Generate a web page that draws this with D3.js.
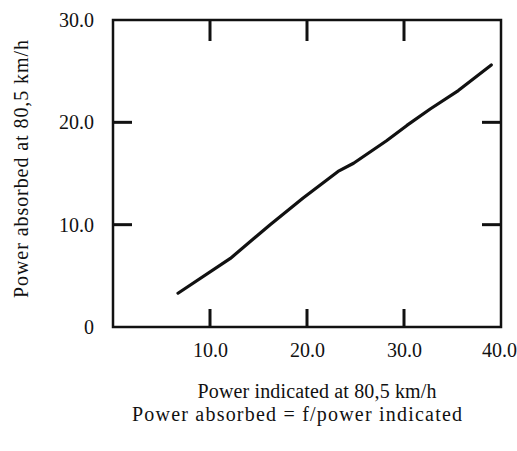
<!DOCTYPE html>
<html>
<head>
<style>
  body { margin: 0; background: #fff; }
  text { font-family: "Liberation Serif", "Times New Roman", serif; fill: #111; }
</style>
</head>
<body>
<script src="https://cdn.jsdelivr.net/npm/d3@7"></script>
<script type="text/javascript">
    // power indicated (x) vs power absorbed (y)
    var indicated = [6.7, 12.1, 16.2, 19.6, 23.2, 24.8, 28.2, 30.3, 32.7, 35.6, 39.0];
    var absorbed  = [3.3, 6.7, 10.0, 12.6, 15.2, 16.0, 18.2, 19.7, 21.3, 23.1, 25.6];
    var xTicks = [10, 20, 30, 40];
    var yTicks = [0, 10, 20, 30];
    var xTitle = "Power indicated at 80,5 km/h";
    var yTitle = "Power absorbed at 80,5 km/h";
    var subTitle = "Power absorbed = f/power indicated";

    var svgWidth = 517, svgHeight = 451;
    var mLeft = 113, mRight = 501, mTop = 20, mBottom = 327;

    var svg = d3.select("body").append("svg")
        .attr("width", svgWidth)
        .attr("height", svgHeight);

    var x = d3.scaleLinear().domain([0, 40]).range([mLeft, mRight]);
    var y = d3.scaleLinear().domain([0, 30]).range([mBottom, mTop]);

    function fmt(v) { return v === 0 ? "0" : v.toFixed(1); }

    // labels from axes, ticks drawn inward by hand
    var gLeft = svg.append("g").attr("transform", "translate(" + mLeft + ",0)")
        .call(d3.axisLeft(y).tickValues(yTicks).tickFormat(fmt).tickSize(0).tickPadding(19));
    var gBottom = svg.append("g").attr("transform", "translate(0," + mBottom + ")")
        .call(d3.axisBottom(x).tickValues(xTicks).tickFormat(fmt).tickSize(0).tickPadding(16));
    [gLeft, gBottom].forEach(function (g) {
        g.select(".domain").remove();
        g.selectAll("text").style("font-family", "Liberation Serif, serif").style("font-size", "20px").attr("fill", "#111");
    });
    // last label sits against the page edge
    gBottom.selectAll("text").filter(function (d) { return d === 40; }).attr("dx", -2);

    var inner = [10, 20];
    var innerX = [10, 20, 30];
    var tickLen = 19;
    var ticks = svg.append("g").attr("stroke", "#111").attr("stroke-width", 3);
    innerX.forEach(function (v) {
        ticks.append("line").attr("x1", x(v)).attr("x2", x(v)).attr("y1", mBottom).attr("y2", mBottom - 18);
        ticks.append("line").attr("x1", x(v)).attr("x2", x(v)).attr("y1", mTop).attr("y2", mTop + 21);
    });
    inner.forEach(function (v) {
        ticks.append("line").attr("x1", mLeft).attr("x2", mLeft + tickLen).attr("y1", y(v)).attr("y2", y(v));
        ticks.append("line").attr("x1", mRight).attr("x2", mRight - tickLen).attr("y1", y(v)).attr("y2", y(v));
    });

    svg.append("rect")
        .attr("x", mLeft).attr("y", mTop)
        .attr("width", mRight - mLeft).attr("height", mBottom - mTop)
        .attr("fill", "none").attr("stroke", "#111").attr("stroke-width", 2.5);

    var pts = indicated.map(function (v, i) { return [v, absorbed[i]]; });
    var line = d3.line().x(function (d) { return x(d[0]); }).y(function (d) { return y(d[1]); });
    svg.append("path")
        .datum(pts)
        .attr("d", line)
        .attr("fill", "none")
        .attr("stroke", "#111")
        .attr("stroke-width", 3.2)
        .attr("stroke-linejoin", "round")
        .attr("stroke-linecap", "round");

    svg.append("text").attr("x", 317).attr("y", 398).attr("text-anchor", "middle")
        .attr("textLength", 239).attr("lengthAdjust", "spacing")
        .style("font-size", "20px").text(xTitle);
    svg.append("text").attr("x", 297).attr("y", 421).attr("text-anchor", "middle")
        .attr("textLength", 330).attr("lengthAdjust", "spacing")
        .style("font-size", "20px").text(subTitle);
    svg.append("text")
        .attr("transform", "translate(28,169) rotate(-90)")
        .attr("text-anchor", "middle")
        .attr("textLength", 258).attr("lengthAdjust", "spacing")
        .style("font-size", "20px").text(yTitle);
</script>
</body>
</html>
